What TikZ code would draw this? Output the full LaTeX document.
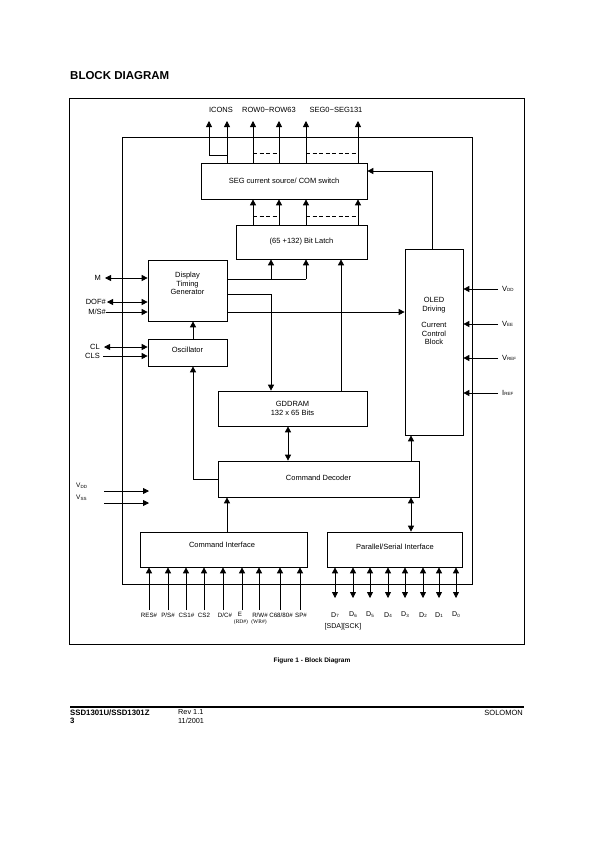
\documentclass[tikz,border=0pt]{standalone}
\usepackage{fontspec}
\setmainfont{Liberation Sans}
\newfontfamily\serifft{Liberation Serif}
\usetikzlibrary{arrows.meta,calc}
\newcommand{\sbs}[1]{\raisebox{-0.8pt}{\fontsize{4.5}{5}\selectfont #1}}
\begin{document}
\begin{tikzpicture}[x=1pt,y=-1pt,
  blk/.style={draw,line width=0.7pt,inner sep=0pt,align=center,font=\fontsize{7.5}{8.5}\selectfont},
  wire/.style={line width=0.8pt},
  arr/.style={wire,-{Triangle[length=6pt,width=6pt]}},
  darr/.style={wire,{Triangle[length=6pt,width=6pt]}-{Triangle[length=6pt,width=6pt]}},
  dsh/.style={wire,dash pattern=on 4pt off 2.5pt},
  lbl/.style={inner sep=0pt,align=center,font=\fontsize{7.5}{8.5}\selectfont},
  pinl/.style={inner sep=0pt,font=\fontsize{6.2}{7}\selectfont},
  subl/.style={inner sep=0pt,font=\serifft\fontsize{5.5}{6}\selectfont},
  frame/.style={line width=0.7pt},
]
\useasboundingbox[fill=white] (0,0) rectangle (595,841);

% title
\node[inner sep=0pt,anchor=west,font=\bfseries\fontsize{11.5}{13}\selectfont] (title) at (70,76) {BLOCK DIAGRAM};

% frames
\draw[frame] (69,98) rectangle (524,644);
\draw[frame] (122,137) rectangle (472,584);

% blocks
\node[blk,minimum width=166pt,minimum height=36pt] (seg) at (284,181) {SEG current source/ COM switch};
\node[blk,minimum width=131pt,minimum height=34pt] (latch) at (301.5,242) {(65 +132) Bit Latch};
\node[blk,minimum width=79pt,minimum height=61pt] (dtg) at (187.5,290.5) {};
\node[lbl] (dtgtxt) at (187.5,283.5) {Display\\Timing\\Generator};
\node[blk,minimum width=79pt,minimum height=27pt] (osc) at (187.5,352.5) {};
\node[lbl] (osctxt) at (187.5,350) {Oscillator};
\node[blk,minimum width=58pt,minimum height=186pt] (oled) at (434,342) {};
\node[lbl] (oledtxt) at (434,321) {OLED\\Driving\\[8pt]Current\\Control\\Block};
\node[blk,minimum width=149pt,minimum height=35pt] (gdd) at (292.5,408.5) {GDDRAM\\132 x 65 Bits};
\node[blk,minimum width=201pt,minimum height=36pt] (cmdd) at (318.5,479) {};
\node[lbl] (cmddtxt) at (318.5,477.5) {Command Decoder};
\node[blk,minimum width=167pt,minimum height=35pt] (cmdi) at (223.5,549.5) {};
\node[lbl] (cmditxt) at (222,545) {Command Interface};
\node[blk,minimum width=135pt,minimum height=35pt] (psi) at (394.5,549.5) {};
\node[lbl] (psitxt) at (395,547) {Parallel/Serial Interface};

% helper coordinates
\foreach \x in {193,209,227,253,271,279,288,306,341,358,411,432}
  \coordinate (c\x) at (\x,0);
\foreach \y in {121,153,155,171,216,279,294,312}
  \coordinate (r\y) at (0,\y);

% top outputs
\node[lbl] (licons) at (221,110) {ICONS};
\node[lbl] (lrow) at (269,110) {ROW0\char`~ROW63};
\node[lbl] (lseg) at (336,110) {SEG0\char`~SEG131};
\foreach \x in {227,253,279,306,358}
  \draw[arr] (c\x |- seg.north) -- (c\x |- r121);
\draw[arr] (c227 |- r155) -- (c209 |- r155) -- (c209 |- r121);
\draw[dsh] (c253 |- r153) -- (c279 |- r153);
\draw[dsh] (c306 |- r153) -- (c358 |- r153);

% OLED to SEG
\draw[arr] (c432 |- oled.north) -- (c432 |- r171) -- (seg.east |- r171);

% latch to SEG
\foreach \x in {253,279,306,358}
  \draw[arr] (c\x |- latch.north) -- (c\x |- seg.south);
\draw[dsh] (c253 |- r216) -- (c279 |- r216);
\draw[dsh] (c306 |- r216) -- (c358 |- r216);

% DTG outputs
\draw[wire] (dtg.east |- r279) -- (c306 |- r279);
\draw[arr] (c271 |- r279) -- (c271 |- latch.south);
\draw[arr] (c306 |- r279) -- (c306 |- latch.south);
\draw[arr] (dtg.east |- r294) -- (c271 |- r294) -- (c271 |- gdd.north);
\draw[arr] (dtg.east |- r312) -- (oled.west |- r312);
\draw[arr] (c341 |- gdd.north) -- (c341 |- latch.south);

% left pins
\coordinate (pM) at (105,278);
\coordinate (pDOF) at (107,302);
\coordinate (pMS) at (106,312);
\coordinate (pCL) at (104,347);
\coordinate (pCLS) at (103,356);
\node[lbl,anchor=east] (lM) at (101,278) {M};
\node[lbl,anchor=east] (lDOF) at (106,302) {DOF\#};
\node[lbl,anchor=east] (lMS) at (106,312) {M/S\#};
\node[lbl,anchor=east] (lCL) at (100,347) {CL};
\node[lbl,anchor=east] (lCLS) at (100,356) {CLS};
\draw[darr] (pM) -- (dtg.west |- pM);
\draw[darr] (pDOF) -- (dtg.west |- pDOF);
\draw[arr] (pMS) -- (dtg.west |- pMS);
\draw[darr] (pCL) -- (osc.west |- pCL);
\draw[arr] (pCLS) -- (osc.west |- pCLS);

% oscillator links
\draw[arr] (c193 |- osc.north) -- (c193 |- dtg.south);
\draw[arr] (cmdd.west) -- (c193 |- cmdd.west) -- (c193 |- osc.south);

% OLED right inputs
\foreach \y/\n/\s/\v in {289/vdd/DD/V,324/vee/EE/V,358/vref/REF/V,393/iref/REF/I}{
  \coordinate (p\n) at (498,\y);
  \draw[arr] (p\n) -- (oled.east |- p\n);
  \node[lbl,anchor=west] (l\n) at (502,\y) {\v\sbs{\s}};
}

% central links
\draw[darr] (c288 |- gdd.south) -- (c288 |- cmdd.north);
\draw[arr] (c411 |- cmdd.north) -- (c411 |- oled.south);
\draw[arr] (c227 |- cmdi.north) -- (c227 |- cmdd.south);
\draw[darr] (c411 |- psi.north) -- (c411 |- cmdd.south);

% left VDD / VSS
\coordinate (pvdda) at (104,491);
\coordinate (pvddb) at (149,491);
\coordinate (pvssa) at (104,503);
\coordinate (pvssb) at (149,503);
\node[lbl,anchor=west,font=\fontsize{6.5}{7}\selectfont] (lvddl) at (76,486) {V\sbs{DD}};
\node[lbl,anchor=west,font=\fontsize{6.5}{7}\selectfont] (lvssl) at (76,498) {V\sbs{SS}};
\draw[arr] (pvdda) -- (pvddb);
\draw[arr] (pvssa) -- (pvssb);

% command interface pins
\foreach \x [count=\i] in {149,168,186,204,223,242,259,280,300}{
  \coordinate (pc\i) at (\x,610);
  \draw[arr] (pc\i) -- (cmdi.south -| pc\i);
}
\node[pinl] (lres) at (149,615) {RES\#};
\node[pinl] (lps) at (168,615) {P/S\#};
\node[pinl] (lcs1) at (186.5,615) {CS1\#};
\node[pinl] (lcs2) at (204,615) {CS2};
\node[pinl] (ldc) at (225,615) {D/C\#};
\node[pinl] (le) at (240,614) {E};
\node[subl] (lrd) at (241,622) {(RD\#)};
\node[pinl] (lrw) at (260,615) {R/W\#};
\node[subl] (lwr) at (259,622) {(WR\#)};
\node[pinl] (lc68) at (281,615) {C68/80\#};
\node[pinl] (lsp) at (301,615) {SP\#};

% data pins
\foreach \x/\d [count=\i] in {335/7,353/6,370/5,388/4,405/3,423/2,439/1,456/0}{
  \coordinate (pd\i) at (\x,598);
  \draw[darr] (pd\i) -- (psi.south -| pd\i);
  \node[lbl,font=\fontsize{7}{8}\selectfont] (ld\i) at (\x,615) {D\sbs{\d}};
}
\node[lbl,font=\fontsize{7}{8}\selectfont] (lsda) at (343,627) {[SDA][SCK]};

% caption
\node[inner sep=0pt,font=\bfseries\fontsize{6.5}{8}\selectfont] (cap) at (312,661) {Figure 1 - Block Diagram};

% footer
\draw[line width=2.6pt] (70,707) -- (524,707);
\node[inner sep=0pt,anchor=west,font=\bfseries\fontsize{7.8}{9}\selectfont] (f1) at (70,712.5) {SSD1301U/SSD1301Z};
\node[inner sep=0pt,anchor=west,font=\bfseries\fontsize{7.8}{9}\selectfont] (f2) at (70,720.5) {3};
\node[inner sep=0pt,anchor=west,font=\fontsize{7.3}{9}\selectfont] (f3) at (178,712.5) {Rev 1.1};
\node[inner sep=0pt,anchor=west,font=\fontsize{7.3}{9}\selectfont] (f4) at (178,720.5) {11/2001};
\node[inner sep=0pt,anchor=east,font=\fontsize{7.5}{9}\selectfont] (f5) at (523,712.5) {SOLOMON};
\end{tikzpicture}
\end{document}
